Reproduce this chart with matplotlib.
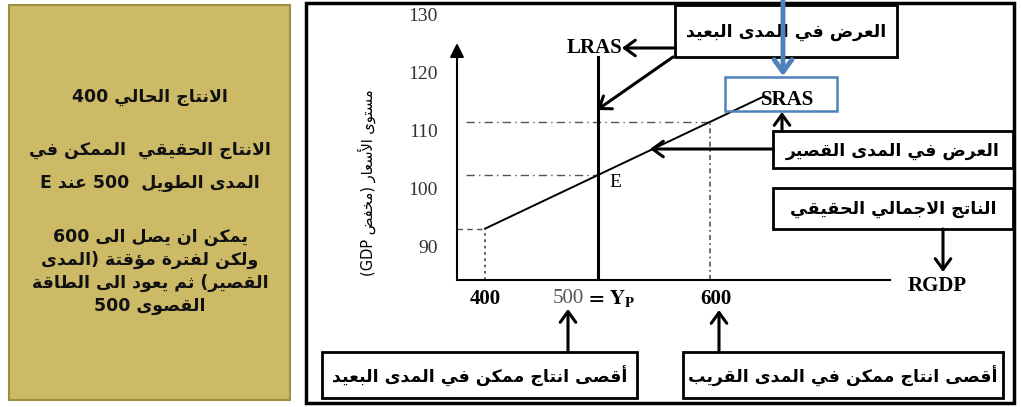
import re
import matplotlib.pyplot as plt
from matplotlib.patches import Rectangle, FancyArrowPatch

plt.rcParams['mathtext.fontset'] = 'stix'

# --- tiny Arabic shaper (matplotlib has no complex text layout) ---
LETTERS = 'ءآأؤإئابةتثجحخدذرزسشصضطظعغفقكلمنهوىي'
RIGHT_ONLY = 'آأؤإادذرزوىة'
FORMS = {}
code = 0xFE80
for ch in LETTERS:
    n = 1 if ch == 'ء' else (2 if ch in RIGHT_ONLY else 4)
    FORMS[ch] = tuple(range(code, code + n))
    code += n
LAMALEF = {'آ': 0xFEF5, 'أ': 0xFEF7, 'إ': 0xFEF9, 'ا': 0xFEFB}


def shape(s):
    s = re.sub('[\u064B-\u0652]', '', s)
    out = []
    i = 0
    while i < len(s):
        c = s[i]
        prev_joins = i > 0 and len(FORMS.get(s[i - 1], ())) == 4
        if c == 'ل' and i + 1 < len(s) and s[i + 1] in LAMALEF:
            out.append(chr(LAMALEF[s[i + 1]] + prev_joins))
            i += 2
            continue
        f = FORMS.get(c)
        if f is None:
            out.append(c)
        else:
            next_joins = len(f) == 4 and i + 1 < len(s) and s[i + 1] in FORMS
            if prev_joins and next_joins:
                out.append(chr(f[3]))
            elif prev_joins and len(f) > 1:
                out.append(chr(f[1]))
            elif next_joins:
                out.append(chr(f[2]))
            else:
                out.append(chr(f[0]))
        i += 1
    return ''.join(out)


def ar(s):
    parts = re.findall(r'[0-9A-Za-z]+|.', shape(s))
    mirror = {'(': ')', ')': '('}
    return ''.join(mirror.get(p, p) for p in reversed(parts))


# --- data ---
y_ticks = [90, 100, 110, 120, 130]
sras_x = [400, 500, 600, 648]
sras_p = [93.0, 102.2, 111.4, 115.8]
lras_x = 500
lras_top = 122.6
axis_top = 125
guide_start = 383

left_lines = [
    'الانتاج الحالي 400',
    '',
    'الانتاج الحقيقي  الممكن في',
    'المدى الطويل  500 عند E',
    '',
    'يمكن ان يصل الى 600',
    'ولكن لفترة مؤقتة (المدى',
    'القصير) ثم يعود الى الطاقة',
    'القصوى 500',
]

W, H = 1021, 407
fig = plt.figure(figsize=(W / 100, H / 100), dpi=100)


def fp(x, y):
    return x / W, 1 - y / H


AR_FONT = 'DejaVu Sans'
SERIF = 'Liberation Serif'

# left gold panel
fig.add_artist(Rectangle(fp(9, 400), 281 / W, 395 / H, transform=fig.transFigure,
                         facecolor='#CDBA66', edgecolor='#9E8E45', lw=1.5, zorder=-2))
line_y = [97, 120, 150, 183, 210, 237, 260, 283, 306]
for y, t in zip(line_y, left_lines):
    if t:
        fig.text(*fp(150, y), ar(t), ha='center', va='center', fontsize=12.5,
                 fontweight='bold', family=AR_FONT, color='#111111')

# right frame
fig.add_artist(Rectangle(fp(306, 403), 708 / W, 400 / H, transform=fig.transFigure,
                         facecolor='white', edgecolor='black', lw=2.5, zorder=-2))

# chart axes
ax = fig.add_axes([457 / W, 1 - 280 / H, 433 / W, 270 / H])
ax.set_xlim(375, 760)
ax.set_ylim(84.14, 130.69)
ax.patch.set_alpha(0)
for side in ['top', 'right', 'left']:
    ax.spines[side].set_visible(False)
ax.spines['bottom'].set_linewidth(1.5)
ax.set_xticks([])
ax.set_yticks(y_ticks)
ax.tick_params(axis='y', length=0, pad=14)
for lab in ax.get_yticklabels():
    lab.set_fontfamily(SERIF)
    lab.set_fontsize(14)
    lab.set_color('#333333')

y0 = ax.get_ylim()[0]
ax.annotate('', xy=(375, axis_top), xytext=(375, y0),
            arrowprops=dict(arrowstyle='-|>,head_length=0.6,head_width=0.3', color='black',
                            lw=1.5, mutation_scale=14, shrinkA=0, shrinkB=0))

# guide lines
ax.plot([guide_start, sras_x[2]], [sras_p[2]] * 2, ls=(0, (6, 3, 1, 3)), color='#555555', lw=1)
ax.plot([guide_start, sras_x[1]], [sras_p[1]] * 2, ls=(0, (6, 3, 1, 3)), color='#555555', lw=1)
ax.plot([375, sras_x[0]], [sras_p[0]] * 2, ls=(0, (4, 3)), color='#555555', lw=1)
ax.plot([sras_x[0]] * 2, [y0, sras_p[0]], ls=(0, (1.5, 2)), color='#555555', lw=1.3)
ax.plot([sras_x[2]] * 2, [y0, sras_p[2]], ls=(0, (3, 2, 1, 2)), color='#555555', lw=1.2)

# curves
ax.plot(sras_x, sras_p, color='black', lw=1.4)
ax.plot([lras_x, lras_x], [y0, lras_top], color='black', lw=2.2)

ax.text(lras_x + 16, sras_p[1] - 1.2, 'E', fontfamily=SERIF, fontsize=14, ha='center', va='center')
ax.text(lras_x - 3, lras_top + 1.6, 'LRAS', fontfamily=SERIF, fontsize=15, fontweight='bold',
        ha='center', va='center')

# x labels under the axis
tb = ax.get_xaxis_transform()
ax.text(400, -0.07, '400', transform=tb, fontfamily=SERIF, fontsize=15, fontweight='bold',
        ha='center', va='center')
ax.text(488, -0.07, '500', transform=tb, fontfamily=SERIF, fontsize=15, color='#555555',
        ha='right', va='center')
ax.text(489, -0.07, r'$\mathbf{=\,Y_P}$', transform=tb, fontsize=15,
        ha='left', va='center')
ax.text(605, -0.07, '600', transform=tb, fontfamily=SERIF, fontsize=15, fontweight='bold',
        ha='center', va='center')

fig.text(*fp(937, 286), 'RGDP', family=SERIF, fontsize=15, fontweight='bold', ha='center', va='center')
fig.text(*fp(367, 183), ar('مستوى الأسعار (مخفض GDP)'), family=AR_FONT, fontsize=10.5,
         rotation=90, ha='center', va='center')


def box(x0, y0_, x1, y1, text, ec='black', lw=2.0, z=3):
    fig.add_artist(Rectangle(fp(x0, y1), (x1 - x0) / W, (y1 - y0_) / H, transform=fig.transFigure,
                             facecolor='white', edgecolor=ec, lw=lw, zorder=z))
    if text:
        fig.text(*fp((x0 + x1) / 2, (y0_ + y1) / 2 + 1), ar(text), family=AR_FONT, fontsize=12.5,
                 fontweight='bold', ha='center', va='center', zorder=z + 1)


def arrow(x0, y0_, x1, y1, color='black', lw=2.2, ms=14, z=5):
    fig.add_artist(FancyArrowPatch(fp(x0, y0_), fp(x1, y1), transform=fig.transFigure,
                                   arrowstyle='->,head_length=0.55,head_width=0.4', color=color,
                                   lw=lw, mutation_scale=ms, shrinkA=0, shrinkB=0, zorder=z))


box(675, 5, 897, 57, 'العرض في المدى البعيد')
box(773, 131, 1013, 168, 'العرض في المدى القصير')
box(773, 188, 1013, 229, 'الناتج الاجمالي الحقيقي')
box(322, 352, 637, 398, 'أقصى انتاج ممكن في المدى البعيد')
box(683, 352, 1003, 398, 'أقصى انتاج ممكن في المدى القريب')

# SRAS blue box
fig.add_artist(Rectangle(fp(725, 111), 112 / W, 34 / H, transform=fig.transFigure,
                         facecolor='none', edgecolor='#4F81BD', lw=1.8, zorder=3))
fig.text(*fp(788, 100), 'SRAS', family=SERIF, fontsize=15, fontweight='bold',
         ha='center', va='center', zorder=4)

arrow(675, 48, 622, 48)
arrow(673, 57, 597, 110)
arrow(773, 149, 650, 149)
arrow(782, 131, 782, 112)
arrow(943, 229, 943, 272)
arrow(568, 352, 568, 309)
arrow(719, 352, 719, 310)
arrow(783, -5, 783, 76, color='#4F81BD', lw=3.5, ms=16, z=6)

fig.savefig('out.png', dpi=100)
